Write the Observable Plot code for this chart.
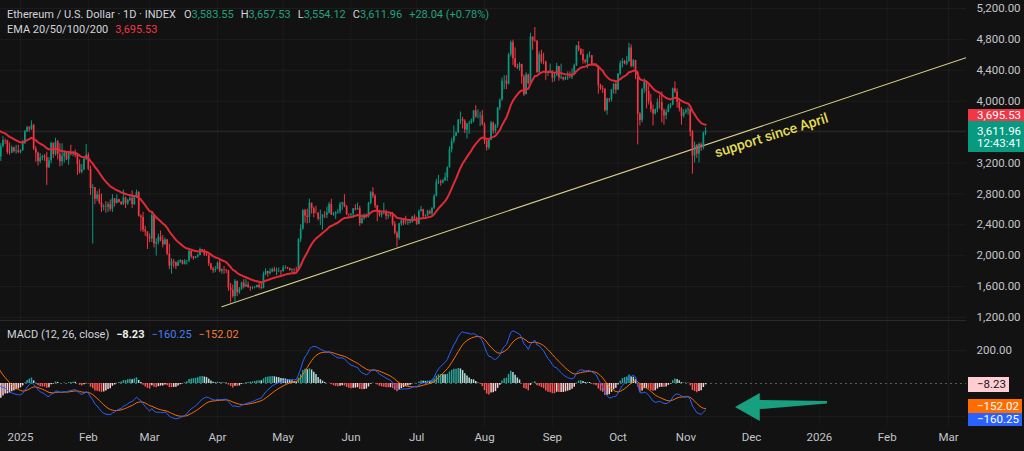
<!DOCTYPE html>
<html><head><meta charset="utf-8">
<script src="https://cdn.jsdelivr.net/npm/d3@7"></script>
<script src="https://cdn.jsdelivr.net/npm/@observablehq/plot@0.6"></script>
<style>
html,body{margin:0;padding:0;background:#121212;}
#root{position:relative;width:1024px;height:451px;background:#121212;overflow:hidden;font-family:Roboto,"Noto Sans",sans-serif;}
#root svg{position:absolute;left:0;overflow:visible;}
.leg{position:absolute;left:7px;font-size:11px;line-height:14px;color:#d1d4dc;white-space:nowrap;}
.leg span{margin-left:7px;}
.leg span.n{margin-left:0;}
.tag{position:absolute;left:968px;font-size:11.5px;line-height:12px;padding:0 3px 0 9px;color:#fff;white-space:nowrap;}
</style></head><body><div id="root"></div>
<script>
// ---------- DATA (ETH/USD daily) ----------
// closes Nov 1 - Dec 22 2024 (out of view, indicator warm-up only)
const warmupCloses = [
 2513,2494,2458,2399,2421,2722,2897,2962,3127,3184,
 3372,3244,3187,3059,3111,3132,3077,3207,3109,3071,
 3356,3326,3393,3361,3417,3325,3660,3577,3593,3703,
 3708,3643,3613,3838,3785,4004,4003,4006,3708,3626,
 3834,3879,3906,3874,3959,3985,3887,3624,3418,3474,
 3315,3279];
// daily closes from Dec 23 2024 to Nov 10 2025
const closes = [
 3415,3490,3487,3336,3331,3398,3350,3355,3337,
 // Jan
 3363,3452,3605,3657,3636,3686,3380,3327,3220,3266,
 3283,3268,3137,3228,3452,3309,3473,3308,3216,3282,
 3326,3241,3339,3310,3320,3297,3179,3080,3113,3249,3300,
 // Feb
 3120,2870,2880,2730,2787,2686,2622,2632,2628,2660,
 2602,2737,2675,2725,2692,2662,2745,2672,2716,2738,
 2662,2763,2818,2510,2494,2333,2308,2237,
 // Mar
 2217,2518,2150,2172,2240,2200,2140,2203,2020,1865,
 1920,1908,1863,1911,1936,1887,1926,1930,2055,1983,
 1965,1982,2004,2080,2067,2010,2002,1895,1828,1806,1822,
 // Apr
 1906,1796,1817,1816,1806,1580,1553,1473,1668,1522,
 1567,1645,1594,1621,1586,1579,1584,1589,1614,1587,
 1577,1756,1795,1769,1787,1820,1793,1799,1799,1793,
 // May
 1840,1842,1834,1808,1817,1814,1811,2206,2345,2582,
 2513,2496,2680,2609,2546,2545,2475,2495,2527,2525,
 2552,2664,2527,2535,2555,2565,2664,2683,2633,2531,2528,
 // Jun
 2538,2608,2593,2610,2415,2478,2524,2508,2677,2815,
 2771,2644,2578,2524,2544,2551,2511,2525,2515,2408,
 2291,2226,2409,2450,2419,2418,2423,2435,2500,2485,
 // Jul
 2405,2570,2594,2510,2516,2571,2540,2614,2770,2952,
 2958,2942,2971,3012,3138,3372,3478,3546,3590,3756,
 3761,3741,3625,3705,3716,3743,3875,3794,3799,3810,3696,
 // Aug
 3483,3395,3496,3718,3613,3682,3911,4013,4258,4260,
 4220,4600,4758,4551,4440,4431,4475,4314,4082,4339,
 4227,4830,4781,4778,4372,4601,4506,4505,4360,4367,4390,
 // Sep
 4300,4330,4450,4300,4310,4276,4300,4310,4306,4346,
 4460,4715,4668,4606,4525,4502,4590,4590,4472,4478,
 4449,4200,4165,4155,3875,4030,4017,4145,4220,4145,
 // Oct
 4350,4487,4515,4480,4515,4688,4450,4525,4370,3835,
 3750,4155,4245,4125,3990,3890,3835,3890,3985,3980,
 3875,3810,3855,3935,3950,4160,4120,3985,3900,3805,3850,
 // Nov
 3875,3890,3600,3290,3425,3315,3440,3395,3583.92,3611.96];
const highs = [
 3450,3540,3510,3495,3460,3420,3405,3430,3430,
 3370,3495,3620,3675,3670,3745,3700,3410,3340,3320,
 3300,3310,3340,3270,3470,3460,3520,3490,3450,3450,
 3340,3340,3350,3430,3350,3370,3300,3240,3180,3280,3440,
 3330,3160,2920,2880,2830,2860,2800,2660,2700,2690,
 2720,2790,2740,2790,2730,2700,2850,2760,2730,2770,
 2840,2780,2850,2830,2530,2560,2380,2300,
 2280,2550,2520,2220,2280,2320,2260,2230,2210,2150,
 1960,1950,1920,1940,1950,1940,1950,1940,2070,2070,
 1990,1990,2020,2100,2070,2080,2040,2010,1900,1850,1860,
 1920,1950,1830,1860,1820,1810,1640,1620,1690,1670,
 1590,1660,1690,1690,1660,1600,1600,1600,1620,1640,
 1660,1790,1830,1800,1830,1840,1850,1840,1840,1810,
 1870,1870,1850,1840,1830,1830,1850,2220,2400,2600,
 2600,2600,2730,2680,2630,2640,2560,2590,2530,2570,
 2630,2690,2730,2560,2570,2600,2690,2690,2790,2650,2540,
 2545,2610,2660,2680,2640,2530,2540,2540,2690,2830,
 2880,2790,2650,2590,2570,2680,2590,2540,2550,2560,
 2440,2310,2420,2480,2460,2510,2460,2440,2510,2530,
 2500,2590,2640,2600,2530,2590,2590,2620,2790,2990,
 3040,2980,2990,3070,3150,3410,3520,3680,3600,3760,
 3860,3790,3760,3710,3740,3770,3880,3940,3890,3860,3880,
 3720,3500,3510,3740,3730,3700,3920,4030,4300,4330,
 4330,4620,4780,4790,4690,4480,4500,4480,4340,4370,
 4350,4880,4830,4955,4780,4640,4660,4620,4520,4390,4480,
 4390,4370,4490,4450,4480,4310,4320,4380,4380,4420,
 4480,4720,4770,4680,4670,4540,4610,4640,4590,4490,
 4480,4460,4220,4200,4160,4040,4030,4150,4230,4240,
 4360,4520,4550,4530,4580,4750,4730,4540,4530,4390,
 3850,4160,4290,4250,4210,4090,3950,3900,4030,4080,
 4120,3900,3890,3960,3970,4170,4250,4160,4030,3920,3890,
 3900,3920,3900,3620,3470,3440,3460,3460,3600,3657.53];
const lows = [
 3220,3395,3440,3310,3300,3320,3330,3315,3320,
 3320,3350,3440,3595,3600,3620,3360,3210,3160,3190,
 3230,3220,2910,3130,3190,3260,3290,3240,3150,3160,
 3200,3230,3170,3290,3280,3270,3040,3060,3060,3100,3230,
 3100,2780,2150,2660,2700,2660,2560,2580,2550,2560,
 2570,2560,2630,2670,2680,2650,2650,2610,2650,2700,
 2610,2650,2740,2500,2310,2300,2250,2080,
 2170,2170,2100,1995,2140,2180,2100,2140,2000,1820,
 1760,1840,1820,1860,1900,1880,1880,1880,1910,1960,
 1940,1960,1970,2000,2040,1990,1990,1860,1810,1770,1780,
 1820,1780,1760,1760,1770,1540,1385,1450,1390,1470,
 1500,1550,1570,1590,1580,1540,1560,1570,1580,1570,
 1560,1570,1740,1720,1750,1780,1790,1740,1780,1740,
 1790,1820,1820,1800,1780,1750,1780,1800,2170,2330,
 2420,2410,2420,2540,2490,2540,2450,2390,2330,2480,
 2480,2540,2520,2510,2470,2540,2540,2590,2620,2520,2490,
 2480,2480,2580,2590,2380,2410,2460,2480,2490,2660,
 2740,2610,2440,2500,2490,2530,2460,2470,2500,2380,
 2270,2110,2200,2380,2390,2400,2390,2410,2420,2450,
 2390,2400,2570,2480,2490,2510,2530,2520,2600,2760,
 2920,2900,2930,2960,2960,3140,3330,3450,3540,3580,
 3700,3640,3580,3510,3570,3700,3720,3780,3770,3670,3680,
 3440,3355,3370,3490,3570,3580,3650,3880,4000,4150,
 4150,4210,4570,4460,4430,4410,4390,4220,4060,4090,
 4210,4220,4660,4760,4360,4360,4480,4470,4270,4320,4370,
 4240,4250,4320,4260,4280,4260,4270,4270,4290,4280,
 4330,4450,4640,4590,4480,4480,4420,4560,4460,4460,
 4440,4090,4140,4100,3860,3820,3980,3990,4090,4090,
 4140,4330,4430,4470,4460,4500,4430,4430,4280,3435,
 3680,3720,4100,3900,3950,3850,3680,3820,3850,3900,
 3720,3690,3760,3850,3900,3940,4100,3910,3860,3690,3780,
 3830,3820,3540,3055,3200,3260,3200,3350,3370,3554.12];

const xTickLabels = ["2025","Feb","Mar","Apr","May","Jun","Jul","Aug","Sep","Oct","Nov","Dec","2026","Feb","Mar"];
const priceTicks = [1200,1600,2000,2400,2800,3200,4000,4400,4800,5200];
const priceGrid = [1200,1600,2000,2400,2800,3200,3600,4000,4400,4800,5200];
const macdTicks = [200];
const macdGrid = [-200, 200];
const supportLine = [{date:"2025-04-03", price:1340}, {date:"2026-03-09", price:4563}];
const supportLabel = [{date:"2025-11-15", price:3271, text:"support since April"}];
const arrowShape = [
 {date:"2025-11-23T16:00Z", lo:-145, hi:-145},
 {date:"2025-12-05T00:00Z", lo:-230, hi:-61},
 {date:"2025-12-05T00:00Z", lo:-158, hi:-103},
 {date:"2026-01-04T17:00Z", lo:-124, hi:-109}];
const legendMain = {title:"Ethereum / U.S. Dollar · 1D · INDEX", O:"3,583.55", H:"3,657.53", L:"3,554.12", C:"3,611.96", chg:"+28.04 (+0.78%)"};
const emaValue = 3695.53, lastClose = 3611.96, lastTime = "12:43:41";
const macdVals = {hist:-8.23, macd:-160.25, signal:-152.02};

// ---------- derived ----------
const DAY = 864e5;
const firstDay = Date.UTC(2024, 11, 23);
const up = "#089981", down = "#f23645";
function ema(arr, n){ const k = 2/(n+1); let e; return arr.map((v,i)=> (e = i===0 ? v : v*k + e*(1-k))); }
const allCloses = warmupCloses.concat(closes);
const off = warmupCloses.length;
const allDates = allCloses.map((_, i) => new Date(firstDay + (i - off) * DAY));
const ema20 = ema(allCloses, 20), e12 = ema(allCloses, 12), e26 = ema(allCloses, 26);
const macd = e12.map((v,i)=> v - e26[i]);
const signal = ema(macd, 9);
const hist = macd.map((v,i)=> v - signal[i]);
const candles = closes.map((c,i)=>{ const o = allCloses[off+i-1];
  return {date: allDates[off+i], open:o, close:c, high:Math.max(highs[i],o,c), low:Math.min(lows[i],o,c)}; });
const emaData = allDates.map((d,i)=>({date:d, v:ema20[i]}));
const macdData = allDates.map((d,i)=>({date:d, macd:macd[i], signal:signal[i], hist:hist[i],
  color: hist[i] >= 0 ? (i>0 && hist[i] > hist[i-1] ? "#26a69a" : "#b2dfdb") : (i>0 && hist[i] > hist[i-1] ? "#ffcdd2" : "#ff5252")}));
const xTickDates = xTickLabels.map((_, i) => new Date(Date.UTC(2025, i, 1)));
const labelMap = new Map(xTickDates.map((d,i)=>[+d, xTickLabels[i]]));
const jan1 = Date.UTC(2025,0,1);
const xDomain = [new Date(jan1 - 9.14*DAY), new Date(jan1 + 432.22*DAY)];
const fmt = d3.format(",.2f");
const axisColor = "#c3c5cb";
const style = {background:"transparent", color:axisColor, fontSize:"11.5px", fontFamily:"Roboto, 'Noto Sans', sans-serif", overflow:"visible"};

const main = Plot.plot({
  width:1024, height:320, marginTop:0, marginBottom:0, marginLeft:0, marginRight:58, style,
  x:{type:"utc", domain:xDomain, axis:null},
  y:{domain:[1161.2, 5303.6], axis:null},
  marks:[
    Plot.gridX(xTickDates, {stroke:"#fff", strokeOpacity:0.035}),
    Plot.gridY(priceGrid, {stroke:"#fff", strokeOpacity:0.045}),
    Plot.ruleY([lastClose], {stroke:"#2c2c2c"}),
    Plot.line(supportLine, {x:d=>new Date(d.date), y:"price", stroke:"#d6d08a", strokeWidth:1.1, clip:true}),
    Plot.ruleX(candles, {x:"date", y1:"low", y2:"high", stroke:d=> d.close>=d.open ? up : down, strokeWidth:1, clip:true}),
    Plot.ruleX(candles, {x:"date", y1:"open", y2:"close", stroke:d=> d.close>=d.open ? up : down, strokeWidth:1.7, clip:true}),
    Plot.line(emaData, {x:"date", y:"v", stroke:"#e02a38", strokeWidth:2, clip:true}),
    Plot.text(supportLabel, {x:d=>new Date(d.date), y:"price", text:"text", rotate:-17.5, textAnchor:"start", lineAnchor:"bottom", fill:"#e2dc55", fontSize:14, fontWeight:500}),
    Plot.axisY(priceTicks, {anchor:"right", tickSize:0, tickPadding:10, tickFormat:fmt, fill:axisColor})
  ]
});
main.style.top = "0px";

const macdPlot = Plot.plot({
  width:1024, height:130, marginTop:0, marginBottom:25, marginLeft:0, marginRight:58, style,
  x:{type:"utc", domain:xDomain, axis:null},
  y:{domain:[-260.6, 375.8], axis:null},
  marks:[
    Plot.gridX(xTickDates, {stroke:"#fff", strokeOpacity:0.035}),
    Plot.gridY(macdGrid, {stroke:"#fff", strokeOpacity:0.045}),
    Plot.ruleY([0], {stroke:"#5a5a5a", strokeDasharray:"2,3"}),
    Plot.ruleX(macdData, {x:"date", y1:0, y2:"hist", stroke:"color", strokeWidth:1.5, clip:true}),
    Plot.line(macdData, {x:"date", y:"signal", stroke:"#ff6d00", strokeWidth:1, clip:true}),
    Plot.line(macdData, {x:"date", y:"macd", stroke:"#2962ff", strokeWidth:1, clip:true}),
    Plot.areaY(arrowShape, {x:d=>new Date(d.date), y1:"lo", y2:"hi", fill:"#17a07f", curve:"linear"}),
    Plot.axisY(macdTicks, {anchor:"right", tickSize:0, tickPadding:10, tickFormat:fmt, fill:axisColor}),
    Plot.axisX(xTickDates, {anchor:"bottom", tickSize:0, tickPadding:6, tickFormat:d=>labelMap.get(+d), fill:axisColor})
  ]
});
macdPlot.style.top = "321px";

const root = document.getElementById("root");
root.appendChild(macdPlot);
root.appendChild(main);

function div(cls, css, html){ const e = document.createElement("div"); e.className = cls; e.style.cssText = css; e.innerHTML = html; return e; }
// separators
root.appendChild(div("", "position:absolute;left:0;top:320px;width:966px;height:1px;background:#2a2a2a;", ""));
// legends
const g = "color:#22a17f";
root.appendChild(div("leg", "top:8px;", `<span class="n">${legendMain.title}</span><span style="margin-left:8px">O</span><span class="n" style="${g}">${legendMain.O}</span><span>H</span><span class="n" style="${g}">${legendMain.H}</span><span>L</span><span class="n" style="${g}">${legendMain.L}</span><span>C</span><span class="n" style="${g}">${legendMain.C}</span><span style="${g}">${legendMain.chg}</span>`));
root.appendChild(div("leg", "top:23px;", `<span class="n">EMA 20/50/100/200</span><span style="color:#f23645">${fmt(emaValue)}</span>`));
const minus = v => (v < 0 ? "\u2212" : "") + fmt(Math.abs(v));
root.appendChild(div("leg", "top:328px;", `<span class="n">MACD (12, 26, close)</span><span style="color:#eeeeee;font-weight:bold">${minus(macdVals.hist)}</span><span style="color:#4d7cf0">${minus(macdVals.macd)}</span><span style="color:#f07a35">${minus(macdVals.signal)}</span>`));

// price tags (positioned from scales)
const yM = main.scale("y");
const tealTop = yM.apply(lastClose) - 9.5;
root.appendChild(div("tag", `top:${tealTop}px;background:#089981;padding-top:4px;padding-bottom:3px;`, `${fmt(lastClose)}<br>${lastTime}`));
root.appendChild(div("tag", `top:${tealTop-12}px;height:12px;background:#f23645;`, fmt(emaValue)));
const pane = div("", "position:absolute;left:0;top:321px;width:1024px;height:105px;overflow:hidden;", "");
root.appendChild(pane);
const yD = macdPlot.scale("y");
pane.appendChild(div("tag", `top:${yD.apply(macdVals.hist)-7.5}px;line-height:15px;background:#ffcdd2;color:#131722;`, minus(macdVals.hist)));
const orTop = yD.apply(macdVals.signal) - 9;
pane.appendChild(div("tag", `top:${orTop}px;line-height:14px;background:#ff6d00;`, minus(macdVals.signal)));
pane.appendChild(div("tag", `top:${orTop+14}px;line-height:13px;background:#2962ff;`, minus(macdVals.macd)));
</script></body></html>
